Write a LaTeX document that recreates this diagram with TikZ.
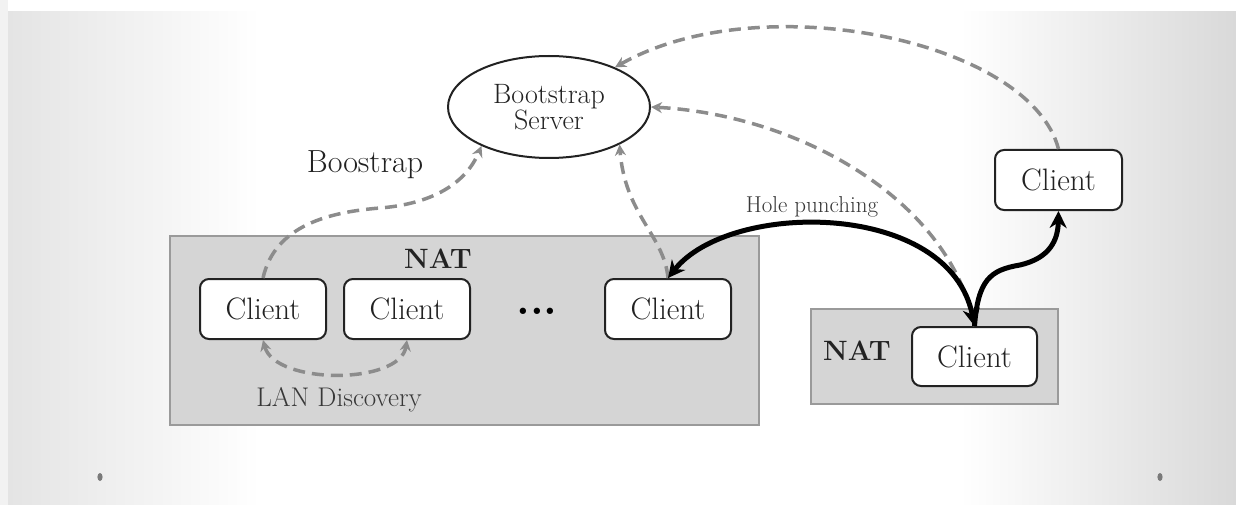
\documentclass[tikz,border=0pt]{standalone}
\usetikzlibrary{arrows.meta,shapes.geometric}
\definecolor{txt}{HTML}{222222}
\definecolor{dashc}{HTML}{8C8C8C}
\definecolor{natfill}{HTML}{D5D5D5}
\definecolor{natdraw}{HTML}{9A9A9A}
\definecolor{bgL}{HTML}{E4E4E4}
\definecolor{bgR}{HTML}{D9D9D9}
\definecolor{bgstrip}{HTML}{F2F2F2}
\definecolor{dotc}{HTML}{7A7A7A}
\begin{document}
\begin{tikzpicture}[x=1pt,y=-1pt,
  client/.style={draw=txt, line width=2pt, rounded corners=9pt, fill=white,
    minimum width=126pt, minimum height=60pt, inner sep=0pt,
    font=\fontsize{31}{36}\selectfont, text=txt},
  natbox/.style={draw=natdraw, fill=natfill, line width=1.5pt, inner sep=0pt},
  natlabel/.style={font=\fontsize{28}{32}\selectfont\bfseries, text=txt},
  dasharrow/.style={draw=dashc, line width=3.5pt, dash pattern=on 12pt off 7pt,
    -{Stealth[length=11pt,width=11pt]}},
  dashboth/.style={draw=dashc, line width=3.5pt, dash pattern=on 12pt off 7pt,
    {Stealth[length=11pt,width=11pt]}-{Stealth[length=11pt,width=11pt]}},
  blackline/.style={draw=black, line width=5pt},
  lbl/.style={text=txt}
]
\useasboundingbox (0,0) rectangle (1236,505);
% background
\fill[white] (0,0) rectangle (1236,505);
\fill[bgstrip] (0,0) rectangle (8,505);
\shade[left color=bgL, right color=white] (8,12) rectangle (260,505);
\shade[left color=white, right color=bgR] (960,12) rectangle (1236,505);
\fill[dotc] (100,477) ellipse (2.6 and 4);
\fill[dotc] (1160,477) ellipse (2.6 and 4);

% NAT boxes
\node[natbox, minimum width=589pt, minimum height=189pt] (nat1) at (464.5,330.5) {};
\node[natbox, minimum width=247pt, minimum height=95pt] (nat2) at (934.5,356.5) {};
\node[natlabel] (natl1) at (438,259) {NAT};
\node[natlabel] (natl2) at (857,351) {NAT};

% server
\node[ellipse, draw=txt, line width=2pt, fill=white, minimum width=202pt, minimum height=102pt,
  inner sep=0pt, align=center, font=\fontsize{28}{26}\selectfont, text=txt] (srv) at (549,107) {Bootstrap\\Server};

% clients
\node[client] (c1) at (263,309) {Client};
\node[client] (c2) at (407,309) {Client};
\node[client] (c3) at (668,309) {Client};
\node[client, minimum width=125pt, minimum height=59pt] (c4) at (974.5,356.5) {Client};
\node[client, minimum width=127pt] (c5) at (1058.5,180) {Client};

\node[font=\fontsize{44}{44}\selectfont\bfseries, text=black, anchor=base, inner sep=0pt] (dots) at (537,314) {...};

% labels
\node[lbl, font=\fontsize{32}{36}\selectfont] (boot) at (365,165) {Boostrap};
\node[lbl, font=\fontsize{27}{30}\selectfont, text=txt!90] (lan) at (339,400) {LAN Discovery};
\node[lbl, font=\fontsize{23}{26}\selectfont, text=txt!90] (hole) at (812,207) {Hole punching};

% dashed connectors
\draw[dasharrow] (c1.north) .. controls (275,225) and (330,212) .. (380,208)
   .. controls (430,204) and (465,185) .. (srv.210);
\draw[dasharrow] (c3.north) .. controls (664,235) and (625,215) .. (srv.332);
\draw[dasharrow] (c4.north) .. controls (950,200) and (800,115) .. (srv.east);
\draw[dasharrow] (c5.north) .. controls (1030,40) and (760,-15) .. (srv.31);
\draw[dashboth] (c1.south) .. controls (275,385) and (400,385) .. (c2.south);

% black connectors
\draw[blackline, {Stealth[length=17pt,width=17pt]}-{Stealth[length=17pt,width=17pt]}]
  (c4.north) .. controls (950,200) and (730,200) .. (c3.north);
\draw[blackline, -{Stealth[length=17pt,width=17pt]}]
  (c4.north) .. controls (978,280) and (990,270) .. (1020,265)
  .. controls (1050,258) and (1058,240) .. (c5.south);
\end{tikzpicture}
\end{document}
